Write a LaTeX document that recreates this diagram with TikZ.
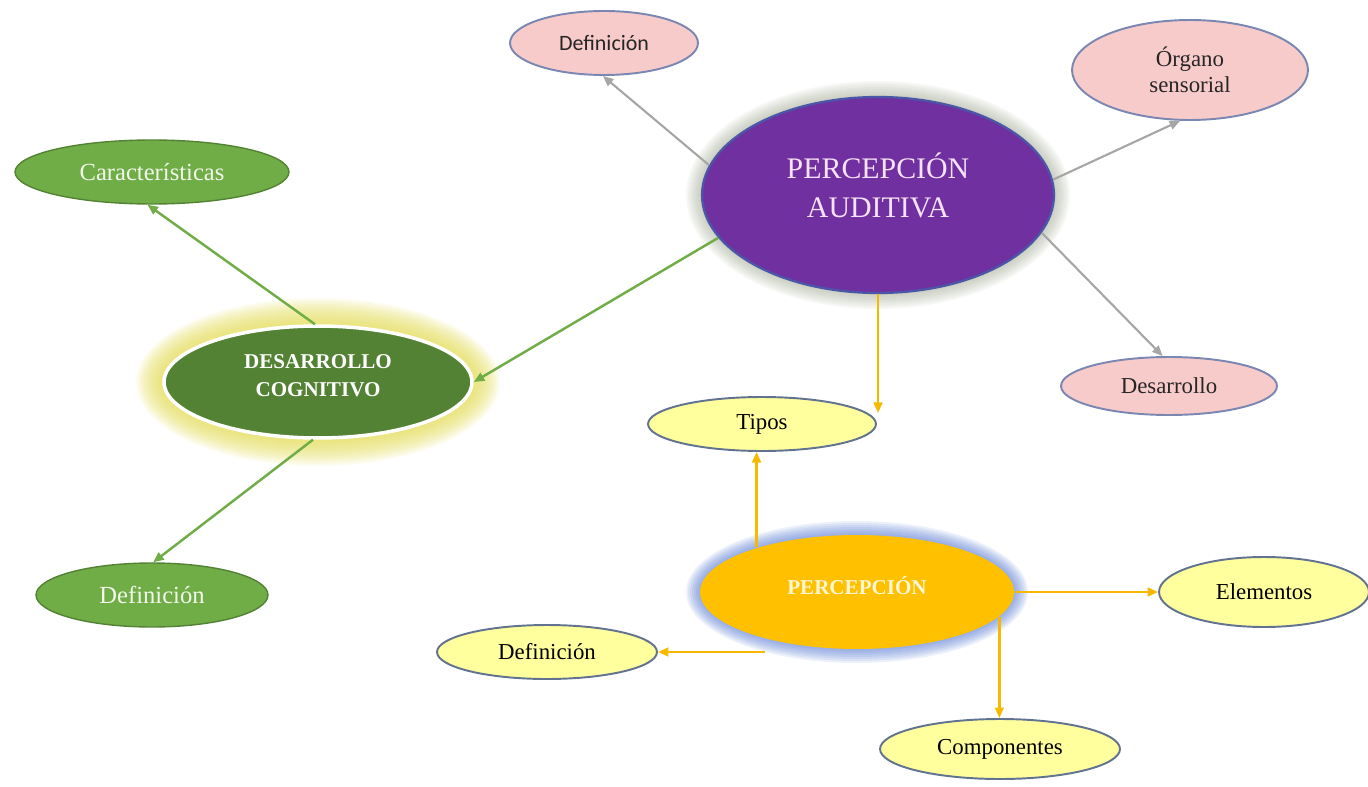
\documentclass[tikz,border=0pt]{standalone}
\usepackage{fontspec}
\setmainfont{Liberation Serif}
\newfontfamily\calib{Carlito}
\usetikzlibrary{shapes.geometric,arrows.meta,calc}
\definecolor{pinkfill}{HTML}{F8CBCB}
\definecolor{pinkline}{HTML}{7A87B2}
\definecolor{purfill}{HTML}{7030A0}
\definecolor{purline}{HTML}{4B56A8}
\definecolor{purtext}{HTML}{F6E2F6}
\definecolor{grfill}{HTML}{70AD47}
\definecolor{grline}{HTML}{548235}
\definecolor{grtext}{HTML}{F2F7EC}
\definecolor{dcfill}{HTML}{548235}
\definecolor{yelfill}{HTML}{FFFF9E}
\definecolor{yelline}{HTML}{62738F}
\definecolor{perfill}{HTML}{FFC000}
\definecolor{pertext}{HTML}{FFF6D6}
\definecolor{grayarr}{HTML}{A6A6A6}
\definecolor{grarr}{HTML}{70AD47}
\definecolor{orarr}{HTML}{F7B800}
\definecolor{glowy}{HTML}{E2DA50}
\definecolor{glowb}{HTML}{4F74D0}
\definecolor{glowg}{HTML}{8A9478}
\newcommand\myglow[7]{\foreach \k in {1,...,#6}{\fill[#5,opacity=#7] (#1,#2) ellipse [x radius={#3+2*\k}, y radius={#4+2*\k}];}}
\tikzset{
  ell/.style={ellipse, draw, line width=1.1pt, inner sep=0pt, align=center, font=\fontsize{13}{14.5}\selectfont},
  pinkn/.style={ell, fill=pinkfill, draw=pinkline, text=black!85},
  greenn/.style={ell, fill=grfill, draw=grline, line width=0.8pt, text=grtext, font=\fontsize{14}{16}\selectfont},
  yeln/.style={ell, fill=yelfill, draw=yelline, text=black},
  garr/.style={draw=grayarr, line width=1.2pt, -{Triangle[length=6pt,width=5pt]}},
  grarrow/.style={draw=grarr, line width=1.4pt, -{Triangle[length=6pt,width=5pt]}},
  oarr/.style={draw=orarr, line width=1.3pt, -{Triangle[length=6pt,width=5pt]}}
}
\begin{document}
\begin{tikzpicture}[x=0.02cm,y=-0.02cm]
\useasboundingbox (0,0) rectangle (1368,787);
% glows
\myglow{878}{195}{176}{98}{glowg}{8}{0.07}
\myglow{318}{382}{154}{56}{glowy}{14}{0.09}
\myglow{857}{592}{157}{57}{glowb}{7}{0.11}
% nodes
\node[ell, fill=purfill, draw=purline, line width=1.3pt, text=purtext, minimum width=7.04cm, minimum height=3.92cm, font=\fontsize{17}{22.5}\selectfont, text depth=11.4pt] (pa) at (878,195) {PERCEPCIÓN\\AUDITIVA};
\node[pinkn, minimum width=3.76cm, minimum height=1.28cm, font=\calib\fontsize{12.5}{14}\selectfont] (def1) at (604,43) {Definición};
\node[pinkn, minimum width=4.72cm, minimum height=2.0cm] (org) at (1190,70) {Órgano\\sensorial};
\node[pinkn, minimum width=4.32cm, minimum height=1.16cm] (des) at (1169,386) {Desarrollo};
\node[greenn, minimum width=5.48cm, minimum height=1.28cm] (car) at (152,172) {Características};
\node[ell, fill=dcfill, draw=white, line width=2pt, text=white, minimum width=6.16cm, minimum height=2.24cm, font=\bfseries\fontsize{12}{16}\selectfont, text depth=7.4pt] (dc) at (318,382) {DESARROLLO\\COGNITIVO};
\node[greenn, minimum width=4.64cm, minimum height=1.28cm] (def2) at (152,595) {Definición};
\node[yeln, minimum width=4.56cm, minimum height=1.08cm] (tip) at (762,424) {Tipos};
\node[ell, fill=perfill, draw=none, text=pertext, minimum width=6.28cm, minimum height=2.28cm, font=\bfseries\fontsize{12}{14}\selectfont, text depth=8pt] (per) at (857,592) {PERCEPCIÓN};
\node[yeln, minimum width=4.2cm, minimum height=1.4cm] (ele) at (1264,592) {Elementos};
\node[yeln, minimum width=4.4cm, minimum height=1.08cm] (def3) at (547,652) {Definición};
\node[yeln, minimum width=4.8cm, minimum height=1.2cm] (com) at (1000,749) {Componentes};
\coordinate (tipR) at (878,413);
% connectors
\draw[garr] (pa.170) -- (def1.268);
\draw[garr] (pa.5) -- (org.259);
\draw[garr] (pa.347) -- (des.102);
\draw[grarrow] (pa.195) -- (dc.east);
\draw[oarr] (pa.south) -- (tipR);
\draw[oarr] (per.156) -- (per.156 |- tip.south);
\draw[oarr] (per.east) -- (ele.west);
\draw[oarr] (def3.east -| per.207) -- (def3.east);
\draw[oarr] (per.350) -- (per.350 |- com.north);
\draw[grarrow] (dc.93) -- (car.262);
\draw[grarrow] (dc.265) -- (def2.88);
\end{tikzpicture}
\end{document}
